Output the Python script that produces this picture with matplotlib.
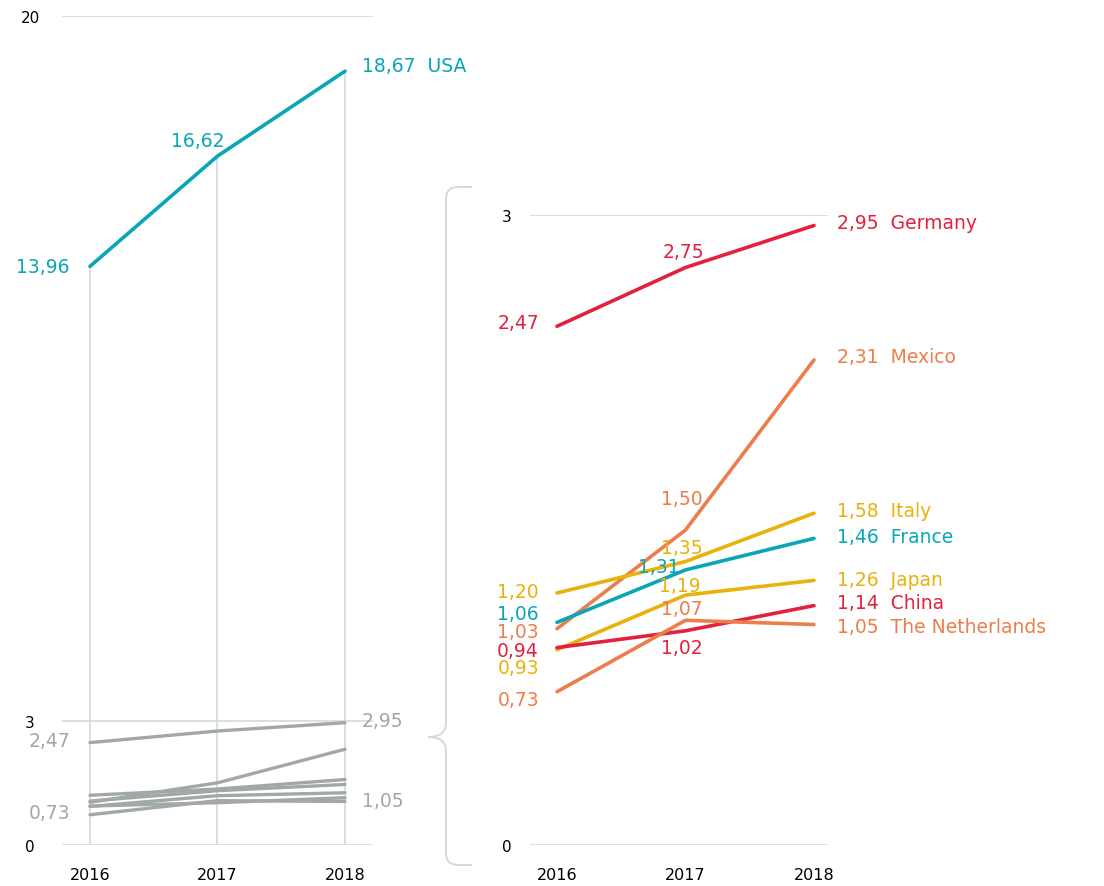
import matplotlib
matplotlib.use("Agg")
import matplotlib.pyplot as plt
from matplotlib.path import Path
from matplotlib.patches import PathPatch

# data
years = [2016, 2017, 2018]
usa = [13.96, 16.62, 18.67]
countries = ["Germany", "Mexico", "Italy", "France", "Japan", "China", "The Netherlands"]
germany = [2.47, 2.75, 2.95]
mexico = [1.03, 1.50, 2.31]
italy = [1.20, 1.35, 1.58]
france = [1.06, 1.31, 1.46]
japan = [0.93, 1.19, 1.26]
china = [0.94, 1.02, 1.14]
netherlands = [0.73, 1.07, 1.05]
series = [germany, mexico, italy, france, japan, china, netherlands]

TEAL = "#0aa6b5"
RED = "#e3213f"
ORANGE = "#eb7e4c"
YELLOW = "#e9b10c"
GRAY = "#a2a8a8"
GRID = "#d3d9dc"
colors = {"Germany": RED, "Mexico": ORANGE, "Italy": YELLOW, "France": TEAL,
          "Japan": YELLOW, "China": RED, "The Netherlands": ORANGE}

# label nudges in pixels (dx, dy), dy positive = down
first_dy = {"Germany": -4, "Mexico": 3, "Italy": -1, "France": -9,
            "Japan": 18, "China": 3, "The Netherlands": 8}
mid_off = {"Germany": (19, -16), "Mexico": (17, -32), "Italy": (17, -14),
           "France": (-6, -3), "Japan": (15, -10), "China": (17, 17),
           "The Netherlands": (17, -12)}
last_dy = {"Germany": -3, "Mexico": -3, "Italy": -3, "France": -2,
           "Japan": -1, "China": -3, "The Netherlands": 2}

W, H = 1104, 887
FS = 13.5


def fmt(v):
    return f"{v:.2f}".replace(".", ",")


def rect(x0, y0, x1, y1):
    return [x0 / W, 1 - y1 / H, (x1 - x0) / W, (y1 - y0) / H]


def lab(ax, txt, x, y, dx, dy, color, ha):
    ax.annotate(txt, (x, y), xytext=(dx, -dy), textcoords="offset pixels",
                ha=ha, va="center", color=color, fontsize=FS, annotation_clip=False)


def style(ax, yt, pad):
    for s in ax.spines.values():
        s.set_visible(False)
    ax.set_xticks(years)
    ax.set_xticklabels([str(y) for y in years], fontsize=11.5)
    ax.set_yticks(yt)
    ax.set_yticklabels([str(t) for t in yt], fontsize=11, ha="center")
    ax.tick_params(length=0)
    ax.tick_params(axis="x", pad=16)
    ax.tick_params(axis="y", pad=pad)
    for t in yt:
        ax.axhline(t, color=GRID, lw=1.2, zorder=0)


plt.rcParams["font.family"] = ["DejaVu Sans"]
fig = plt.figure(figsize=(W / 100, H / 100), dpi=100)

# left panel: all countries
ax1 = fig.add_axes(rect(62, 17, 373, 846))
ax1.set_xlim(2016 - 28 / 127.5, 2018 + 28 / 127.5)
ax1.set_ylim(0, 20)
style(ax1, [0, 3, 20], 23)
ax1.vlines(years, 0, usa, color=GRID, lw=1.2, zorder=0)
for s in series:
    ax1.plot(years, s, color=GRAY, lw=2.4, solid_capstyle="round")
ax1.plot(years, usa, color=TEAL, lw=2.6, solid_capstyle="round")
lab(ax1, fmt(usa[0]), years[0], usa[0], -20, 0, TEAL, "right")
lab(ax1, fmt(usa[1]), years[1], usa[1], 7, -16, TEAL, "right")
lab(ax1, fmt(usa[2]) + "  USA", years[2], usa[2], 17, -6, TEAL, "left")
lab(ax1, fmt(germany[0]), years[0], germany[0], -20, -2, GRAY, "right")
lab(ax1, fmt(netherlands[0]), years[0], netherlands[0], -20, -2, GRAY, "right")
lab(ax1, fmt(germany[2]), years[2], germany[2], 17, -2, GRAY, "left")
lab(ax1, fmt(netherlands[2]), years[2], netherlands[2], 17, -1, GRAY, "left")

# right panel: zoom 0-3
ax2 = fig.add_axes(rect(530, 216, 828, 846))
ax2.set_xlim(2016 - 27 / 128.5, 2018 + 14 / 128.5)
ax2.set_ylim(0, 3)
style(ax2, [0, 3], 17)
for name, s in zip(countries, series):
    c = colors[name]
    ax2.plot(years, s, color=c, lw=2.6, solid_capstyle="round")
    lab(ax2, fmt(s[0]), years[0], s[0], -18, first_dy[name], c, "right")
    dx, dy = mid_off[name]
    lab(ax2, fmt(s[1]), years[1], s[1], dx, dy, c, "right")
    lab(ax2, fmt(s[2]) + "  " + name, years[2], s[2], 23, last_dy[name], c, "left")

# bracket linking the panels
pts = [(472, 188), (458, 188), (446, 188), (446, 200), (446, 724), (446, 738), (428, 738),
       (446, 738), (446, 752), (446, 854), (446, 866), (458, 866), (472, 866)]
codes = [Path.MOVETO, Path.LINETO, Path.CURVE3, Path.CURVE3, Path.LINETO, Path.CURVE3, Path.CURVE3,
         Path.CURVE3, Path.CURVE3, Path.LINETO, Path.CURVE3, Path.CURVE3, Path.LINETO]
verts = [(x / W, 1 - y / H) for x, y in pts]
fig.add_artist(PathPatch(Path(verts, codes), transform=fig.transFigure,
                         fill=False, edgecolor="#d6d9da", lw=1.4))

fig.savefig("out.png", dpi=100)
